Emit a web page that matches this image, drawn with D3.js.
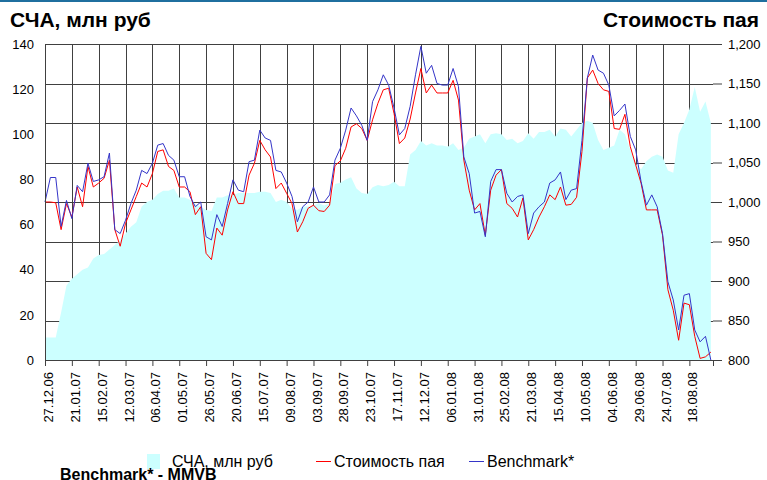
<!DOCTYPE html>
<html>
<head>
<meta charset="utf-8">
<script src="https://cdn.jsdelivr.net/npm/d3@7"></script>
<style>
  body { margin: 0; background: #fff; }
  svg { display: block; }
</style>
</head>
<body>
<div id="chart"></div>
<script>
// values, one point every 5 days from 27.12.06
var startDate = "27.12.06";
var stepDays = 5;

// СЧА, млн руб (left axis)
var nav = [
  10, 10, 10, 21, 33, 36, 38, 40, 41, 45,
  46.5, 47, 49, 51, 53, 56, 59, 61, 68, 70,
  71, 73.5, 75, 75, 76, 72, 72, 71, 69, 68,
  66.5, 66, 72, 72, 73, 73, 74, 74, 74, 74,
  74.5, 74.5, 74, 70, 71, 70, 67, 66.5, 68, 68,
  68.5, 69.5, 68.5, 69.5, 78, 78.5, 80, 81, 76, 74,
  73.5, 76.5, 77.5, 77, 77.5, 79, 77, 77, 91, 93,
  97, 95, 96, 95, 95, 94.5, 96, 93, 94, 98,
  99, 100, 96, 100, 100.5, 100, 97.5, 98, 96, 97,
  100.5, 98, 101, 101, 102, 99, 102.6, 102, 99, 102,
  105, 106, 105, 97.5, 93, 94, 95, 102, 100, 93,
  87, 84.5, 88, 90, 91, 90, 84, 83, 100, 105,
  111, 121, 110, 114.5, 105
];

// Стоимость пая (right axis)
var unitPrice = [
  1000, 1000, 999, 965, 998, 981, 1019, 994, 1045, 1019,
  1024, 1030, 1053, 965, 944, 973, 990, 1007, 1024, 1019,
  1036, 1064, 1066, 1045, 1040, 1019, 1019, 1013, 984, 994,
  935, 927, 967, 958, 990, 1013, 998, 998, 1034, 1049,
  1078, 1066, 1057, 1017, 1024, 1011, 998, 962, 975, 992,
  996, 989, 988, 996, 1046, 1052, 1068, 1095, 1099, 1093,
  1078, 1104, 1125, 1142, 1144, 1112, 1074, 1081, 1105, 1138,
  1169, 1138, 1148, 1138, 1138, 1138, 1154, 1129, 1053, 1015,
  990, 998, 958, 1015, 1034, 1041, 998, 992, 981, 1005,
  952, 965, 981, 994, 1009, 1003, 1019, 996, 997, 1006,
  1064, 1157, 1167, 1150, 1142, 1140, 1093, 1092, 1111, 1070,
  1047, 1024, 990, 990, 990, 958, 889, 863, 825, 872,
  870, 830, 802, 804, 810
];

// Benchmark* (right axis)
var benchmark = [
  1000, 1031, 1031, 969, 1002, 979, 1021, 1013, 1049, 1026,
  1028, 1032, 1062, 965, 960, 977, 998, 1015, 1040, 1036,
  1049, 1072, 1074, 1059, 1053, 1032, 1032, 1007, 994, 1000,
  956, 952, 984, 969, 998, 1028, 1015, 1013, 1051, 1053,
  1091, 1081, 1078, 1040, 1038, 1024, 1007, 975, 994, 1000,
  1019, 1000, 1000, 1009, 1053, 1068, 1091, 1119, 1109, 1097,
  1078, 1127, 1142, 1161, 1148, 1119, 1085, 1093, 1121, 1161,
  1197, 1163, 1173, 1150, 1148, 1148, 1169, 1146, 1057, 1036,
  986, 988, 956, 1026, 1041, 1041, 1011, 1000, 1007, 1009,
  960, 986, 994, 1000, 1024, 1028, 1038, 1003, 1015, 1017,
  1078, 1157, 1186, 1167, 1163, 1148, 1109, 1116, 1124, 1083,
  1066, 1026, 996, 1009, 994, 960, 899, 876, 838, 882,
  884, 838, 823, 830, 800
];

var tickLabels = [
  "27.12.06", "21.01.07", "15.02.07", "12.03.07", "06.04.07", "01.05.07",
  "26.05.07", "20.06.07", "15.07.07", "09.08.07", "03.09.07", "28.09.07",
  "23.10.07", "17.11.07", "12.12.07", "06.01.08", "31.01.08", "25.02.08",
  "21.03.08", "15.04.08", "10.05.08", "04.06.08", "29.06.08", "24.07.08",
  "18.08.08"
];
var endDate = "09.09.08";
var leftTicks = [0, 20, 40, 60, 80, 100, 120, 140];
var rightTicks = [800, 850, 900, 950, 1000, 1050, 1100, 1150, 1200];

var seriesNames = ["СЧА, млн руб", "Стоимость пая", "Benchmark*"];

var parse = d3.timeParse("%d.%m.%y");
var t0 = parse(startDate);
var data = nav.map(function(v, i) {
  return {
    date: d3.timeDay.offset(t0, i * stepDays),
    nav: v,
    price: unitPrice[i],
    bench: benchmark[i]
  };
});

var W = 767, H = 480;
var margin = {top: 44, right: 54, bottom: 120, left: 45};
var width = W - margin.left - margin.right,
    height = H - margin.top - margin.bottom;

var svg = d3.select("#chart")
  .append("svg")
    .attr("width", W)
    .attr("height", H)
    .style("font-family", "'DejaVu Sans', sans-serif");

// thin frame line at the very top
svg.append("line")
  .attr("x1", 0).attr("x2", W)
  .attr("y1", 1).attr("y2", 1)
  .attr("stroke", "#1f6f9f")
  .attr("stroke-width", 2);

// titles
svg.append("text")
  .attr("x", 10).attr("y", 27)
  .style("font-family", "'Liberation Sans', Arial, sans-serif")
  .style("font-weight", "bold")
  .style("font-size", "21px")
  .text("СЧА, млн руб");

svg.append("text")
  .attr("x", 759).attr("y", 27)
  .attr("text-anchor", "end")
  .style("font-family", "'Liberation Sans', Arial, sans-serif")
  .style("font-weight", "bold")
  .style("font-size", "21px")
  .text("Стоимость пая");

var g = svg.append("g")
  .attr("transform", "translate(" + margin.left + "," + margin.top + ")");

// scales
var x = d3.scaleTime()
  .domain([t0, parse(endDate)])
  .range([0, width]);

var yL = d3.scaleLinear()
  .domain([0, 140])
  .range([height, 0]);

var yR = d3.scaleLinear()
  .domain([800, 1200])
  .range([height, 0]);

var tickDates = tickLabels.map(parse);

// grid
g.append("g")
  .selectAll("line.v")
  .data(tickDates)
  .enter().append("line")
    .attr("x1", function(d) { return Math.round(x(d)) + 0.5; })
    .attr("x2", function(d) { return Math.round(x(d)) + 0.5; })
    .attr("y1", 0).attr("y2", height)
    .attr("stroke", "#404040");

g.append("g")
  .selectAll("line.h")
  .data(rightTicks)
  .enter().append("line")
    .attr("x1", 0).attr("x2", width)
    .attr("y1", function(d) { return Math.round(yR(d)) + 0.5; })
    .attr("y2", function(d) { return Math.round(yR(d)) + 0.5; })
    .attr("stroke", "#404040");

// area
var area = d3.area()
  .x(function(d) { return x(d.date); })
  .y0(yL(0))
  .y1(function(d) { return yL(d.nav); });

g.append("path")
  .datum(data)
  .attr("fill", "#ccffff")
  .attr("d", area);

// lines
var priceLine = d3.line()
  .x(function(d) { return x(d.date); })
  .y(function(d) { return yR(d.price); });

var benchLine = d3.line()
  .x(function(d) { return x(d.date); })
  .y(function(d) { return yR(d.bench); });

g.append("path")
  .datum(data)
  .attr("fill", "none")
  .attr("stroke", "#ff0000")
  .attr("stroke-width", 1)
  .attr("d", priceLine);

g.append("path")
  .datum(data)
  .attr("fill", "none")
  .attr("stroke", "#3535c8")
  .attr("stroke-width", 1)
  .attr("d", benchLine);

// left axis
var leftAxis = g.append("g")
  .call(d3.axisLeft(yL).tickValues(leftTicks).tickSize(0).tickPadding(11));
leftAxis.select(".domain").attr("stroke", "#404040");
leftAxis.selectAll("text").style("font-size", "13px").attr("fill", "#000");

// right axis
var rightAxis = g.append("g")
  .attr("transform", "translate(" + width + ",0)")
  .call(d3.axisRight(yR).tickValues(rightTicks).tickSize(9).tickPadding(6)
    .tickFormat(d3.format(",")));
rightAxis.select(".domain").remove();
rightAxis.selectAll("line").attr("stroke", "#404040");
rightAxis.selectAll("text").style("font-size", "13px").attr("fill", "#000");

// bottom axis
var bottomAxis = g.append("g")
  .attr("transform", "translate(0," + height + ")")
  .call(d3.axisBottom(x).tickValues(tickDates).tickSize(6)
    .tickFormat(d3.timeFormat("%d.%m.%y")));
bottomAxis.select(".domain").attr("stroke", "#404040");
bottomAxis.selectAll("line").attr("stroke", "#404040");
bottomAxis.selectAll("text")
  .style("font-size", "13px")
  .attr("fill", "#000")
  .attr("text-anchor", "end")
  .attr("transform", "rotate(-90)")
  .attr("x", -12)
  .attr("y", 3)
  .attr("dy", "0.35em");

// legend
var legendItems = [
  {name: seriesNames[0], type: "area", color: "#ccffff", x: 147},
  {name: seriesNames[1], type: "line", color: "#ff0000", x: 316},
  {name: seriesNames[2], type: "line", color: "#3535c8", x: 469}
];

var legend = svg.append("g")
  .style("font-family", "'Liberation Sans', Arial, sans-serif")
  .style("font-size", "16px");

var li = legend.selectAll("g")
  .data(legendItems)
  .enter().append("g")
    .attr("transform", function(d) { return "translate(" + d.x + ",461)"; });

li.filter(function(d) { return d.type === "area"; })
  .append("rect")
    .attr("x", 0).attr("y", -7)
    .attr("width", 13).attr("height", 15)
    .attr("fill", function(d) { return d.color; });

li.filter(function(d) { return d.type === "line"; })
  .append("line")
    .attr("x1", 0).attr("x2", 15)
    .attr("y1", 0.5).attr("y2", 0.5)
    .attr("stroke", function(d) { return d.color; });

li.append("text")
  .attr("x", function(d) { return d.type === "area" ? 25 : 18; })
  .attr("y", 6)
  .text(function(d) { return d.name; });

svg.append("text")
  .attr("x", 60).attr("y", 480)
  .style("font-family", "'Liberation Sans', Arial, sans-serif")
  .style("font-weight", "bold")
  .style("font-size", "16px")
  .text("Benchmark* - MMVB");
</script>
</body>
</html>
